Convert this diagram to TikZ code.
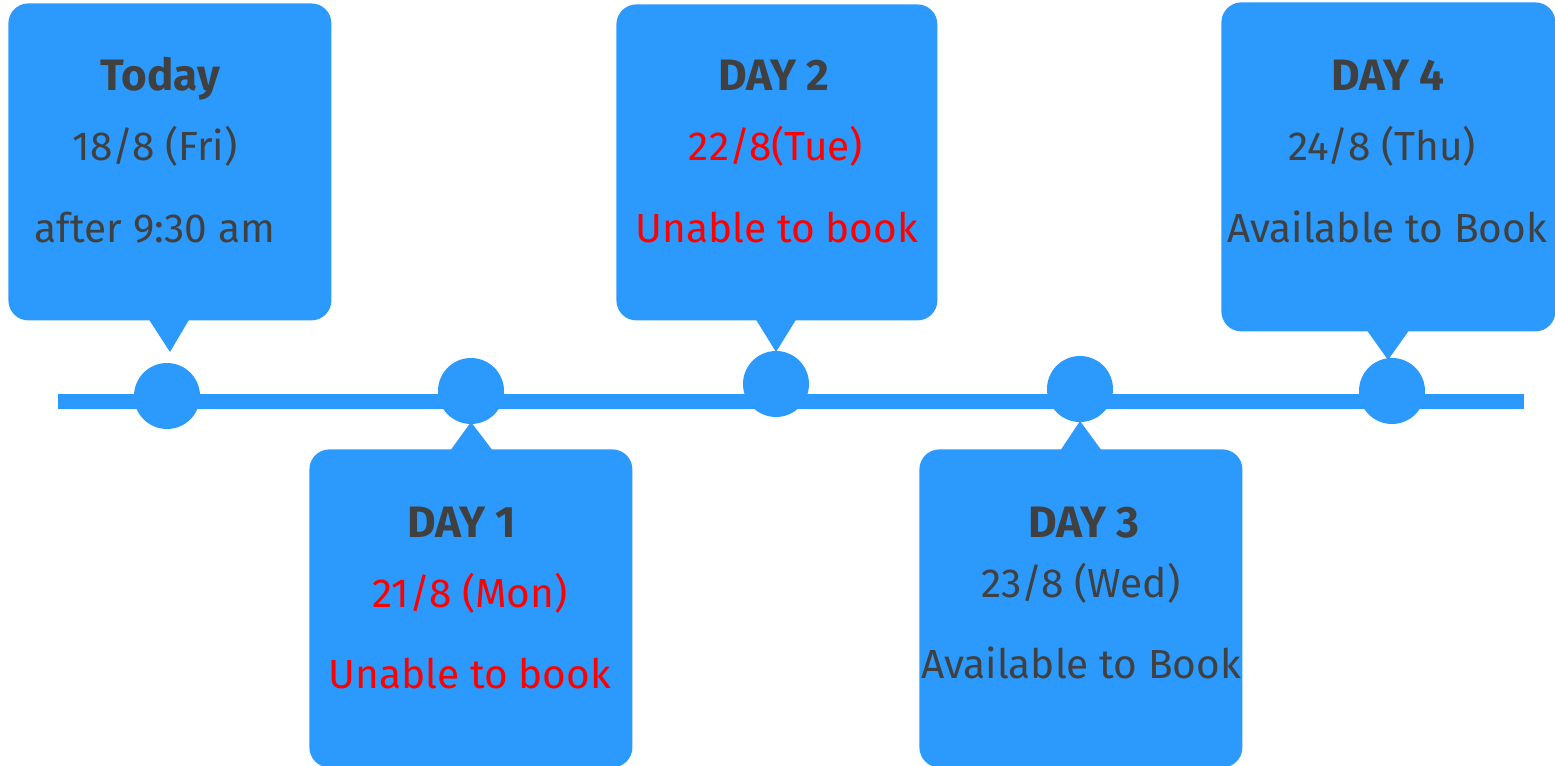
\documentclass[tikz,border=0pt]{standalone}
\usepackage{fontspec}
\setmainfont{Fira Sans}
\definecolor{tlblue}{HTML}{2B9AFC}
\definecolor{tgray}{HTML}{404040}
\definecolor{tred}{HTML}{FF0000}
\begin{document}
\begin{tikzpicture}[x=0.5pt,y=-0.5pt,
  card/.style={fill=tlblue, rounded corners=10pt, inner sep=0pt, anchor=north west},
  dot/.style={circle, fill=tlblue, minimum size=33pt, inner sep=0pt},
  title/.style={font=\bfseries\fontsize{22}{26}\selectfont, text=tgray, anchor=base, inner sep=0pt},
  info/.style={font=\fontsize{20.3}{24}\selectfont, text=tgray, anchor=base, inner sep=0pt},
  warn/.style={info, text=tred}]
\useasboundingbox (0,0) rectangle (1555,766);
% timeline
\coordinate (ls) at (58,401);
\coordinate (le) at (1524,401);
\draw[tlblue, line width=7.5pt] (ls) -- (le);
% dots
\node[dot] (d0) at (167,396) {};
\node[dot] (d1) at (471,391) {};
\node[dot] (d2) at (776,384) {};
\node[dot] (d3) at (1080,389) {};
\node[dot] (d4) at (1392,391) {};
% cards
\node[card, minimum width=161.5pt, minimum height=158.5pt] (c0) at (8,3) {};
\node[card, minimum width=161.5pt, minimum height=159pt] (c1) at (309,449) {};
\node[card, minimum width=160.5pt, minimum height=158pt] (c2) at (616,4) {};
\node[card, minimum width=161.5pt, minimum height=159pt] (c3) at (919,449) {};
\node[card, minimum width=167pt, minimum height=164.5pt] (c4) at (1221,2) {};
% pointers
\fill[tlblue] (148,318) -- (170,352) -- (190,318) -- cycle;
\fill[tlblue] (450,451) -- (471,422) -- (493,451) -- cycle;
\fill[tlblue] (755,318) -- (776,352) -- (797,318) -- cycle;
\fill[tlblue] (1060,451) -- (1080,421) -- (1102,451) -- cycle;
\fill[tlblue] (1366,329) -- (1388,360) -- (1410,329) -- cycle;
% texts
\node[title] (t0) at (160,90) {Today};
\node[info] (t0a) at (155,160) {18/8 (Fri)};
\node[info] (t0b) at (155,242) {after 9:30 am};
\node[title] (t1) at (462,537) {DAY 1};
\node[warn] (t1a) at (470,607) {21/8 (Mon)};
\node[warn] (t1b) at (470,688) {Unable to book};
\node[title] (t2) at (774,90) {DAY 2};
\node[warn] (t2a) at (776,160) {22/8(Tue)};
\node[warn] (t2b) at (777,242) {Unable to book};
\node[title] (t3) at (1084,537) {DAY 3};
\node[info] (t3a) at (1081,597) {23/8 (Wed)};
\node[info] (t3b) at (1081,678) {Available to Book};
\node[title] (t4) at (1388,90) {DAY 4};
\node[info] (t4a) at (1382,160) {24/8 (Thu)};
\node[info] (t4b) at (1387,242) {Available to Book};
\end{tikzpicture}
\end{document}
